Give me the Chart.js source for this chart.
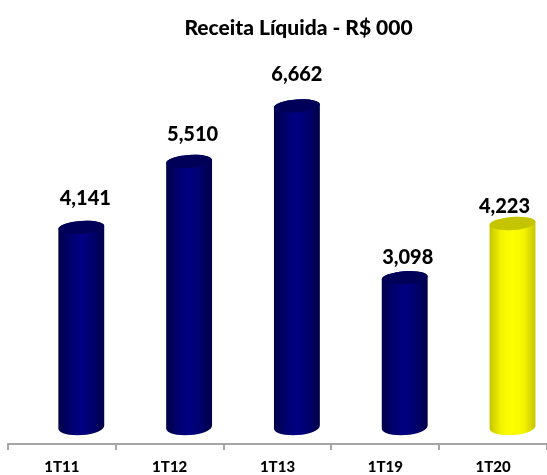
<!DOCTYPE html>
<html>
<head>
<meta charset="utf-8">
<title>Receita Líquida</title>
<script src="https://cdn.jsdelivr.net/npm/chart.js@4/dist/chart.umd.min.js"></script>
<style>
  html, body { margin: 0; padding: 0; background: #fff; }
  canvas { display: block; }
</style>
</head>
<body>
<canvas id="chart" width="547" height="475"></canvas>
<script>
const categories = ['1T11', '1T12', '1T13', '1T19', '1T20']
const revenue = [4141, 5510, 6662, 3098, 4223]
const spacer = [null, null, null, null, null]

// label nudges in px, the source picture does not sit them evenly
const labelDx = [4, 3.5, 0, 3, -8]
const labelDy = [-29, -27, -31, -20, -17]

const NAVY = ['#000048', '#00006c', '#000084', '#00006c', '#000048']
const YELLOW = ['#c4c400', '#f4f400', '#ffff00', '#f4f400', '#c4c400']
const TILT = -0.07
const RY = 6.5
const RY_BOTTOM = 8

const isHighlight = (index) => categories[index] === '1T20'

// draws each bar element as a slightly tilted cylinder
const cylinders = {
  id: 'cylinders',
  afterLayout(chart) {
    chart.titleBlock.left += 21
    chart.titleBlock.right += 21
  },
  afterDatasetsDraw(chart) {
    const { ctx } = chart
    const meta = chart.getDatasetMeta(1)
    meta.data.forEach((bar, i) => {
      const rx = bar.width / 2
      const left = bar.x - rx
      const stops = isHighlight(i) ? YELLOW : NAVY
      const grad = ctx.createLinearGradient(left, 0, left + bar.width, 0)
      stops.forEach((c, k) => grad.addColorStop(k / (stops.length - 1), c))

      ctx.save()
      ctx.beginPath()
      ctx.ellipse(bar.x, bar.y, rx, RY, TILT, Math.PI, 0)
      ctx.ellipse(bar.x, bar.base, rx, RY_BOTTOM, TILT, 0, Math.PI)
      ctx.closePath()
      ctx.fillStyle = grad
      ctx.fill()

      ctx.beginPath()
      ctx.ellipse(bar.x, bar.y, rx, RY, TILT, 0, Math.PI * 2)
      ctx.fillStyle = isHighlight(i) ? '#c4c400' : '#000058'
      ctx.fill()

      ctx.fillStyle = '#000'
      ctx.font = '900 20px Lato'
      ctx.textAlign = 'center'
      ctx.textBaseline = 'middle'
      ctx.fillText(revenue[i].toLocaleString('en-US'), bar.x + labelDx[i], bar.y + labelDy[i])
      ctx.restore()
    })
  },
}

new Chart(document.getElementById('chart'), {
  type: 'bar',
  data: {
    labels: categories,
    datasets: [
      { label: 'spacer', data: spacer },
      { label: 'Receita Líquida', data: revenue, backgroundColor: 'transparent' },
    ],
  },
  options: {
    responsive: false,
    animation: false,
    layout: { padding: { left: 8, right: 0, top: 10, bottom: -9 } },
    datasets: { bar: { categoryPercentage: 0.72, barPercentage: 1.185 } },
    plugins: {
      legend: { display: false },
      tooltip: { enabled: false },
      title: {
        display: true,
        text: 'Receita Líquida - R$ 000',
        color: '#000',
        font: { family: 'Lato', size: 21, weight: '900' },
        padding: { top: 6, bottom: 6 },
      },
    },
    scales: {
      x: {
        grid: { drawOnChartArea: false, drawTicks: true, tickLength: 6, color: '#a6a6a6', lineWidth: 2 },
        border: { color: '#a6a6a6', width: 2 },
        ticks: { color: '#000', font: { family: 'Lato', size: 15, weight: '900' }, maxRotation: 0, autoSkip: false, padding: 8 },
      },
      y: { display: false, min: -350, max: 7880 },
    },
  },
  plugins: [cylinders],
})
</script>
</body>
</html>
